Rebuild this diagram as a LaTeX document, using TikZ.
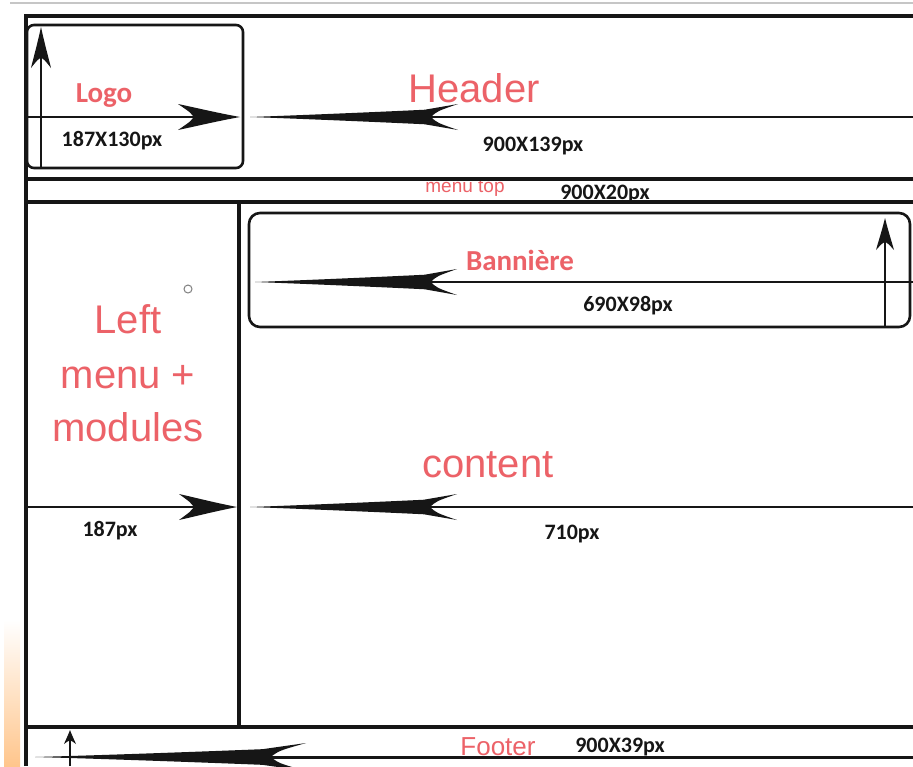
\documentclass[tikz,border=0pt]{standalone}
\usepackage{fontspec}
\newfontfamily\arialf{Liberation Sans}
\newfontfamily\calf{Carlito}
\definecolor{lblred}{RGB}{236,98,104}
\definecolor{ink}{RGB}{22,22,22}
% left-pointing long tapered arrow ("sword"): tip x, y, length, half width
\newcommand\swordL[4]{\fill[ink,shift={(#1,#2)}] (0,0) .. controls ({0.3*#3},-2.2) and ({0.7*#3},{-0.45*#4}) .. ({0.84*#3},{-0.56*#4}) -- (#3,{-#4}) .. controls ({0.9*#3},{-0.45*#4}) .. ({0.87*#3},0) .. controls ({0.9*#3},{0.45*#4}) .. (#3,#4) -- ({0.84*#3},{0.56*#4}) .. controls ({0.7*#3},{0.45*#4}) and ({0.3*#3},2.2) .. (0,0) -- cycle;}
% stealth-like arrow head: tip x, y, rotation, length, half width
\newcommand\myhead[5]{\fill[ink,shift={(#1,#2)},rotate=#3] (0,0) .. controls ({-0.4*#4},{-0.35*#5}) and ({-0.7*#4},{-0.7*#5}) .. ({-#4},{-#5}) .. controls ({-0.8*#4},{-0.35*#5}) .. ({-0.74*#4},0) .. controls ({-0.8*#4},{0.35*#5}) .. ({-#4},{#5}) .. controls ({-0.7*#4},{0.7*#5}) and ({-0.4*#4},{0.35*#5}) .. (0,0) -- cycle;}
\begin{document}
\begin{tikzpicture}[x=1pt,y=-1pt,
  frame/.style={draw=ink,line width=3.2pt},
  dimline/.style={draw=ink,line width=2.6pt},
  bigred/.style={text=lblred,font=\arialf\fontsize{40}{40}\selectfont,anchor=base,inner sep=0pt},
  boldred/.style={text=lblred,font=\calf\bfseries\fontsize{29}{29}\selectfont,anchor=base,inner sep=0pt},
  dimtxt/.style={text=ink,font=\calf\bfseries\fontsize{22}{22}\selectfont,anchor=base,inner sep=0pt}]
\useasboundingbox (0,0) rectangle (913,766);
\fill[white] (0,0) rectangle (913,766);
% faint orange strip at the lower left
\shade[top color=white,bottom color=orange!45] (4,620) rectangle (20,766);
% thin grey line at the top
\draw[gray!45,line width=1.5pt] (10,3) -- (913,3);

% texts drawn first so lines pass over them
\node[text=lblred,font=\arialf\fontsize{19}{19}\selectfont,anchor=base,inner sep=0pt] (menutop) at (465,192) {menu top};
\node[dimtxt] (menudim) at (605,199) {900X20px};

% outer frame and main separators
\draw[frame] (26,766) -- (26,16) -- (913,16);
\draw[frame] (26,179) -- (913,179);
\draw[frame] (26,202) -- (913,202);
\draw[frame] (239,202) -- (239,727);
\draw[frame] (26,727) -- (913,727);

% Logo box
\draw[ink,line width=2.6pt,rounded corners=7pt] (27,25) rectangle (243,168);
\coordinate (logoUp) at (41,27);
\coordinate (logoR) at (240,117);
\draw[dimline] (41,168) -- (41,45);
\myhead{41}{27}{90}{41}{10}
\draw[dimline] (27,117) -- (200,117);
\myhead{240}{117}{0}{62}{13}

% Header width arrow
\coordinate (hdrTip) at (250,117);
\swordL{250}{117}{208}{13}
\draw[dimline] (420,117) -- (913,117);

% Banner box
\draw[ink,line width=2.6pt,rounded corners=11pt] (249,213) rectangle (910,327);
\swordL{255}{282}{202}{13}
\draw[dimline] (420,282) -- (913,282);
\draw[dimline] (885,327) -- (885,240);
\myhead{885}{218}{90}{32}{9}

% content widths
\draw[dimline] (26,507) -- (200,507);
\myhead{237}{507}{0}{58}{13}
\swordL{250}{507}{207}{13}
\draw[dimline] (420,507) -- (913,507);

% Footer
\draw[line width=1.8pt,ink] (70,766) -- (70,738);
\myhead{70}{730}{90}{14}{6}
\swordL{35}{757}{271}{14}
\draw[line width=3pt,ink] (260,757) -- (913,757);

% small cursor mark
\draw[gray,line width=1pt] (188,289) circle (4pt);

% texts
\node[boldred] (logo) at (104,102) {Logo};
\node[dimtxt] (logodim) at (112,146) {187X130px};
\node[bigred] (header) at (474,102) {Header};
\node[dimtxt] (hdrdim) at (533,151) {900X139px};
\node[boldred] (banner) at (520,270) {Bannière};
\node[dimtxt] (bandim) at (628,311) {690X98px};
\node[bigred] (left1) at (128,333) {Left};
\node[bigred] (left2) at (128,388) {menu +};
\node[bigred] (left3) at (128,441) {modules};
\node[bigred] (content) at (488,477) {content};
\node[dimtxt] (leftdim) at (110,536) {187px};
\node[dimtxt] (contdim) at (572,539) {710px};
\node[text=lblred,font=\arialf\fontsize{26}{26}\selectfont,anchor=base,inner sep=0pt] (footer) at (498,755) {Footer};
\node[dimtxt] (footdim) at (620,752) {900X39px};
\end{tikzpicture}
\end{document}
